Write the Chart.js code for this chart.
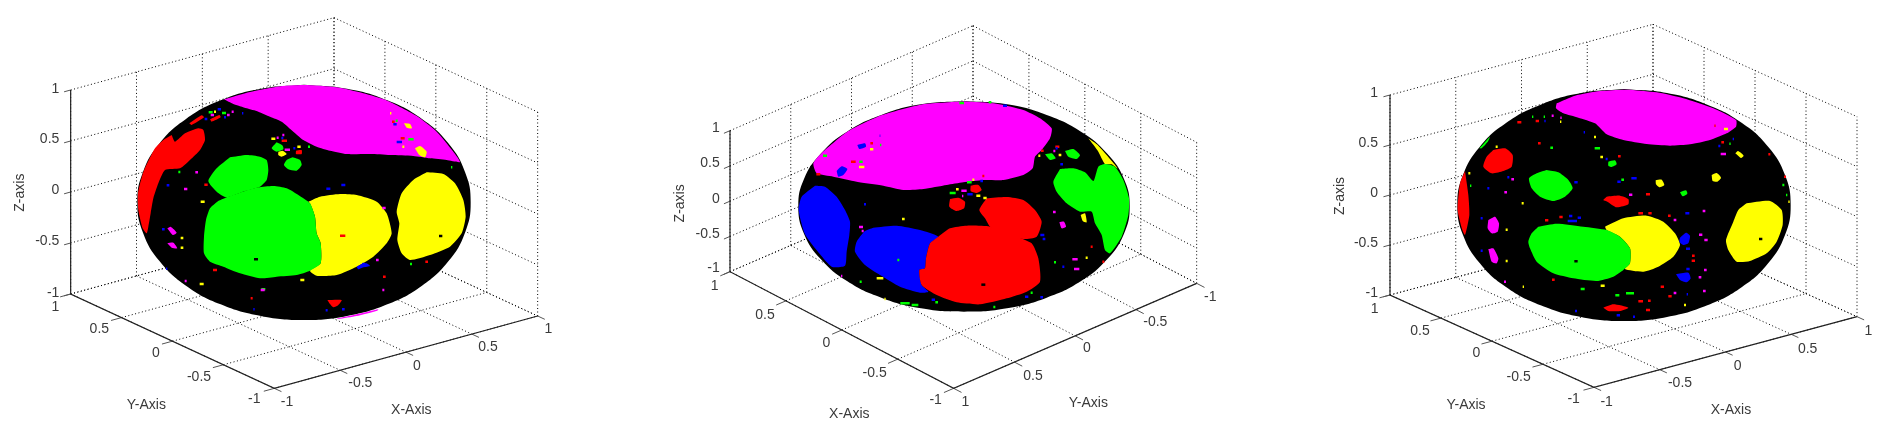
<!DOCTYPE html>
<html><head><meta charset="utf-8">
<script src="https://cdn.jsdelivr.net/npm/chart.js@4"></script>
<style>
html,body{margin:0;padding:0;background:#fff;width:1886px;height:435px;overflow:hidden}
canvas{position:absolute;top:0;filter:blur(0.35px)}
</style></head><body>
<canvas id="c1" style="left:0"></canvas>
<canvas id="c2" style="left:620px"></canvas>
<canvas id="c3" style="left:1260px"></canvas>
<script>
// All values below are in each panel's projected view units.
const tickValues=["-1","-0.5","0","0.5","1"];
const zAxisTitle="Z-axis";

/* ---------- PANEL 1 ---------- */
const p1Box={L:[-178,642],F:[433,925],R:[1223,708],H:612};
const p1ZLabelX=-212,p1ZLabelY=[638,482,330,178,28];
const p1LeftLabels=[[373,958],[207,890],[78,818],[-92,748],[-224,682]];
const p1RightLabels=[[471,965],[691,910],[861,857],[1074,802],[1255,748]];
const p1Titles=[["Y-Axis",49,975],["X-Axis",844,990],[zAxisTitle,-330,338]];
const p1Outline=[[522,14],[651,26],[772,61],[876,117],[955,190],[1005,276],[1022,367],[1005,458],[955,544],[876,617],[772,673],[651,708],[522,720],[393,708],[272,673],[168,617],[89,544],[39,458],[22,367],[39,276],[89,190],[168,117],[272,61],[393,26]];
const p1Magenta=[
 [[282,58],[360,36],[440,20],[522,15],[620,22],[700,40],[772,62],[860,108],[920,155],[970,215],[990,246],[950,240],[900,235],[850,228],[780,225],[720,222],[650,222],[600,212],[560,200],[520,180],[490,155],[455,125],[420,110],[385,95],[350,85],[310,72]],
 [[620,716],[680,703],[745,688],[742,692],[680,708],[625,717]],
 [[112,445],[122,440],[140,458],[128,465]],[[112,490],[130,488],[142,505],[125,503]]];
const p1Red=[
 [[125,165],[135,185],[165,160],[205,145],[220,150],[225,180],[210,210],[180,240],[150,265],[105,270],[85,310],[70,355],[62,400],[55,440],[50,460],[38,445],[25,390],[24,340],[40,276],[75,205],[100,180]],
 [[178,130],[215,106],[222,112],[185,135]],[[240,118],[268,105],[272,112],[245,125]],
 [[592,660],[635,660],[625,675],[610,682],[600,672]],[[498,212],[515,210],[515,222],[498,222]]];
const p1Green=[
 [[300,232],[350,225],[390,230],[410,240],[415,270],[410,300],[390,320],[345,333],[290,352],[260,335],[235,303],[260,265]],
 [[290,352],[345,333],[385,322],[430,318],[470,325],[505,345],[540,370],[555,410],[560,460],[572,490],[572,550],[540,572],[500,585],[440,590],[390,595],[330,580],[280,560],[240,545],[222,520],[222,470],[228,420],[240,385],[262,365]],
 [[440,187],[458,197],[460,208],[440,215],[425,205]],
 [[488,232],[510,240],[515,255],[500,272],[475,268],[462,255],[470,240]]];
const p1Yellow=[
 [[535,365],[570,350],[630,342],[680,345],[740,365],[770,400],[785,460],[770,490],[730,530],[680,560],[620,585],[560,587],[540,572],[572,550],[572,490],[560,460],[555,410],[540,370]],
 [[890,277],[940,282],[975,310],[1000,360],[1007,410],[995,460],[960,500],[900,525],[840,540],[815,520],[802,480],[808,430],[800,395],[815,340],[850,300]],
 [[445,215],[458,212],[470,222],[455,230],[445,225]],[[822,130],[840,132],[846,145],[830,143]],
 [[855,205],[870,198],[890,215],[885,232],[868,225]]];
const p1Blue=[[[680,560],[695,552],[698,548],[710,550],[720,558],[700,562],[685,568]]];
const p1RedSpecks=[[463,182,8],[228,314,5],[638,467,8],[255,570,6],[790,125,4],[818,175,6],[763,590,4],[365,655,3],[890,545,4]];
const p1GreenSpecks=[[242,97,6],[282,99,6],[148,276,3],[843,178,8],[800,122,3],[537,200,3],[965,262,2],[400,628,6],[843,552,3]];
const p1BlueSpecks=[[100,448,4],[114,316,4],[595,326,6],[640,315,6],[228,117,4],[285,112,3],[808,186,8],[795,133,5],[457,174,3],[493,205,3],[590,691,3],[640,688,4],[372,688,2],[110,566,2],[268,88,5],[338,100,2]];
const p1YellowSpecks=[[218,365,6],[156,474,4],[430,176,6],[215,612,6],[517,600,6],[255,95,3],[820,200,3],[782,100,2],[507,200,5],[156,503,4]];
const p1MagentaSpecks=[[200,277,4],[167,327,5],[472,209,8],[443,173,3],[247,105,5],[295,105,4],[398,630,6],[762,384,5],[742,540,4],[167,603,3],[760,630,3],[460,165,3],[308,95,3]];
const p1BlackSpecks=[[378,538,6],[932,468,5]];

/* ---------- PANEL 2 ---------- */
const p2Box={L:[-180,530],F:[491,880],R:[1220,565],H:423};
const p2ZLabelX=-211,p2ZLabelY=[520,417,312,205,100];
const p2LeftLabels=[[437,915],[254,833],[109,745],[-75,660],[-226,573]];
const p2RightLabels=[[1261,605],[1096,682],[891,760],[729,843],[526,920]];
const p2Titles=[["X-Axis",178,957],["Y-Axis",895,923],[zAxisTitle,-329,325]];
const p2Outline=[[522,18],[651,28],[770,60],[873,110],[952,176],[1002,252],[1019,334],[1002,416],[952,492],[873,558],[770,608],[651,640],[522,650],[393,640],[274,608],[171,558],[92,492],[42,416],[25,334],[42,252],[92,176],[171,110],[274,60],[393,28]];
const p2Magenta=[
 [[522,19],[620,26],[700,45],[750,70],[785,100],[780,130],[755,165],[735,185],[728,220],[700,240],[640,255],[580,255],[520,262],[470,270],[400,282],[340,285],[280,272],[200,260],[130,245],[80,235],[70,205],[92,177],[171,111],[274,61],[393,29]],
 [[808,382],[822,380],[828,395],[815,400]]];
const p2Blue=[
 [[75,272],[105,275],[140,305],[165,345],[180,380],[178,420],[170,470],[165,512],[125,515],[90,478],[45,418],[26,345],[35,305]],
 [[250,398],[320,392],[390,405],[445,425],[420,445],[408,490],[405,520],[388,525],[395,570],[415,590],[390,593],[330,575],[270,540],[225,510],[195,470],[200,440],[225,408]],
 [[202,150],[225,145],[228,155],[208,162]],[[140,228],[155,214],[172,222],[160,240],[145,245]]];
const p2Red=[
 [[445,425],[480,400],[530,392],[600,395],[680,425],[725,445],[745,490],[750,560],[710,590],[650,610],[570,628],[500,622],[440,600],[395,570],[388,525],[405,520],[408,490],[420,445]],
 [[590,310],[650,306],[700,315],[735,345],[755,380],[740,425],[700,432],[640,420],[600,395],[585,370],[568,345]],
 [[480,312],[505,308],[525,320],[522,340],[500,348],[478,335]],
 [[542,272],[565,270],[575,285],[560,294],[542,288]]];
const p2Yellow=[
 [[895,130],[925,152],[985,222],[965,208],[945,207],[925,170]],
 [[872,360],[885,355],[890,382],[878,378]]];
const p2Green=[
 [[810,222],[850,220],[885,232],[910,258],[925,215],[945,207],[975,215],[1000,255],[1017,310],[1015,360],[995,425],[960,475],[945,465],[935,420],[915,385],[905,350],[870,350],[830,325],[800,290],[790,260]],
 [[765,178],[785,175],[797,190],[780,195]],
 [[825,168],[850,162],[870,180],[860,192],[835,185]]];
const p2RedSpecks=[[190,200,7],[245,145,4],[85,238,6],[802,155,6],[757,167,4],[580,243,3],[905,455,3],[940,500,3]];
const p2GreenSpecks=[[105,182,6],[213,200,5],[488,294,9],[538,262,7],[272,150,2],[515,24,7],[325,495,3],[795,502,3],[345,625,14],[375,630,10],[440,622,4],[613,636,3],[725,593,3],[212,560,3],[600,22,4]];
const p2BlueSpecks=[[225,328,3],[757,420,6],[762,432,4],[540,298,8],[430,614,5],[575,258,4],[820,515,3],[710,605,5],[755,607,4],[645,32,6],[815,208,4],[800,160,3],[270,122,1]];
const p2YellowSpecks=[[245,163,5],[215,216,8],[270,550,10],[810,180,4],[748,182,3],[565,302,6],[585,309,5],[550,254,3],[502,283,4],[340,372,4],[890,488,3],[285,612,2]];
const p2MagentaSpecks=[[213,396,6],[218,408,3],[793,351,4],[855,493,8],[860,522,8],[522,287,8],[793,168,3],[518,303,2],[725,180,2],[155,543,2]];
const p2BlackSpecks=[[580,569,6]];

/* ---------- PANEL 3 ---------- */
const p3Box={L:[-180,630],F:[432,907],R:[1221,695],H:600};
const p3ZLabelX=-216,p3ZLabelY=[625,475,325,175,23];
const p3LeftLabels=[[371,942],[206,875],[79,805],[-90,737],[-226,673]];
const p3RightLabels=[[470,950],[690,895],[863,842],[1073,792],[1255,737]];
const p3Titles=[["Y-Axis",48,960],["X-Axis",843,975],[zAxisTitle,-331,333]];
const p3Outline=[[522,12],[651,24],[772,59],[876,114],[955,186],[1005,270],[1022,360],[1005,450],[955,534],[876,606],[772,661],[651,696],[522,708],[393,696],[272,661],[168,606],[89,534],[39,450],[22,360],[39,270],[89,186],[168,114],[272,59],[393,24]];
const p3Magenta=[
 [[320,55],[375,32],[450,18],[530,14],[620,22],[700,40],[790,70],[858,105],[858,125],[830,145],[780,165],[720,178],[660,182],[590,177],[520,165],[470,148],[435,115],[385,98],[340,85],[318,70]],
 [[115,405],[135,395],[147,415],[143,440],[125,445],[113,430]],
 [[115,492],[130,490],[145,520],[140,535],[125,530]]];
const p3Red=[
 [[45,258],[55,330],[58,390],[45,450],[36,432],[23,375],[30,295]],
 [[130,195],[165,190],[188,210],[185,245],[160,258],[125,265],[100,245],[110,215]],
 [[470,335],[510,332],[535,342],[535,358],[500,367],[472,350],[460,345]],
 [[460,668],[490,658],[535,668],[510,678],[475,678]]];
const p3Green=[
 [[290,255],[325,262],[355,285],[368,310],[345,335],[310,348],[270,335],[245,310],[237,280],[260,265]],
 [[265,425],[320,416],[400,425],[470,435],[510,455],[540,490],[540,535],[520,555],[490,575],[440,588],[370,580],[310,565],[260,530],[240,490],[235,470],[245,445]],
 [[475,230],[495,226],[500,238],[485,246],[475,242]],[[690,322],[708,316],[712,326],[698,334]],
 [[88,190],[120,155],[112,172],[95,190]]];
const p3Yellow=[
 [[465,425],[520,400],[590,392],[640,410],[675,445],[690,480],[670,515],[625,545],[580,560],[525,552],[540,535],[540,490],[510,455],[470,435]],
 [[890,355],[960,348],[995,375],[998,420],[980,470],[950,505],[900,528],[860,530],[835,495],[828,465],[850,410],[865,375]],
 [[617,286],[635,284],[643,300],[628,307],[618,298]],[[785,270],[800,264],[813,278],[802,290],[788,288]],[[856,205],[864,198],[881,212],[873,219]]];
const p3Blue=[
 [[690,458],[708,443],[720,452],[715,475],[700,480],[688,470]],
 [[678,568],[715,563],[722,580],[710,592],[690,585]]];
const p3RedSpecks=[[208,112,6],[262,108,5],[268,175,4],[572,385,7],[594,328,6],[333,396,5],[290,406,5],[600,385,5],[658,392,4],[637,605,5],[660,634,5],[572,649,7],[598,647,4],[594,675,6],[730,512,4],[730,527,5],[795,122,2],[818,172,4],[508,214,4],[958,208,3],[310,584,4],[1005,275,3]];
const p3GreenSpecks=[[442,190,8],[305,188,4],[518,284,4],[398,612,6],[540,625,12],[502,631,6],[1000,300,3],[1010,330,2],[840,176,2],[62,302,2],[248,95,2],[283,95,2]];
const p3BlueSpecks=[[362,393,5],[367,408,14],[388,398,5],[507,290,5],[552,280,8],[712,385,6],[714,491,6],[714,552,5],[95,400,3],[115,310,3],[175,277,3],[378,292,5],[378,678,3],[505,691,5],[552,695,3],[850,162,2],[403,142,2],[95,497,3],[470,222,3],[808,183,3],[712,628,2],[285,108,2]];
const p3YellowSpecks=[[435,156,3],[455,216,4],[218,355,3],[170,434,3],[170,528,3],[458,602,6],[705,660,3],[58,265,3],[828,132,6],[140,185,3],[220,605,2],[332,110,2],[1017,350,2]];
const p3MagentaSpecks=[[820,207,8],[188,283,4],[167,322,4],[542,329,5],[675,405,4],[762,378,4],[752,449,5],[768,465,5],[766,555,4],[750,577,4],[763,618,4],[675,624,4],[308,92,3],[165,590,3],[333,98,2],[460,160,1]];
const p3BlackSpecks=[[378,529,5],[932,462,5]];

const COL={red:'#ff0000',green:'#00ff00',blue:'#0000ff',yellow:'#ffff00',magenta:'#ff00ff',black:'#000000'};
const GAP={x:null,y:null};
const pt=p=>({x:p[0],y:p[1]});
const mix=(a,b,t)=>[a[0]+(b[0]-a[0])*t,a[1]+(b[1]-a[1])*t];

function boxLines(b){
  const ts=[0,.25,.5,.75,1],up=p=>[p[0],p[1]-b.H];
  const B=[b.L[0]+b.R[0]-b.F[0],b.L[1]+b.R[1]-b.F[1]];
  const grid=[],seg=(a,c)=>grid.push(pt(a),pt(c),GAP);
  ts.forEach(t=>{
    seg(mix(b.L,b.F,t),mix(B,b.R,t));            // floor
    seg(mix(b.L,B,t),mix(b.F,b.R,t));            // floor
    const a=mix(b.L,B,t),c=mix(B,b.R,t);
    seg(a,up(a));seg(c,up(c));                   // wall verticals
    const zl=[b.L[0],b.L[1]-b.H*t],zb=[B[0],B[1]-b.H*t],zr=[b.R[0],b.R[1]-b.H*t];
    seg(zl,zb);seg(zb,zr);                       // wall horizontals
  });
  const ticks=[];
  const kx=[(b.R[0]-b.F[0])*-.04,(b.R[1]-b.F[1])*-.04],ky=[(b.F[0]-b.L[0])*.035,(b.F[1]-b.L[1])*.035];
  const kz=[(b.R[0]-b.F[0])*-.025,(b.R[1]-b.F[1])*-.025];
  ts.forEach(t=>{
    const y=mix(b.L,b.F,t),x=mix(b.F,b.R,t),z=[b.L[0],b.L[1]-b.H*t];
    ticks.push(pt(y),pt([y[0]+kx[0],y[1]+kx[1]]),GAP);
    ticks.push(pt(x),pt([x[0]+ky[0],x[1]+ky[1]]),GAP);
    ticks.push(pt(z),pt([z[0]+kz[0],z[1]+kz[1]]),GAP);
  });
  const axes=[pt(up(b.L)),pt(b.L),pt(b.F),pt(b.R)];
  return {grid,ticks,axes};
}
function poly(points,color,tension){
  return {data:points.concat([points[0]]).map(pt),showLine:true,fill:'shape',backgroundColor:color,borderColor:color,borderWidth:0,pointRadius:0,tension:tension};
}
function specks(list,color){
  const d=[];list.forEach(s=>d.push({x:s[0]-s[2],y:s[1]},{x:s[0]+s[2],y:s[1]},GAP));
  return {data:d,showLine:true,fill:false,borderColor:color,borderWidth:2.5,pointRadius:0,tension:0,borderCapStyle:'butt'};
}
const labelPlugin={id:'labels',afterDatasetsDraw(ch){
  const c=ch.ctx,sx=ch.scales.x,sy=ch.scales.y,P=ch.config.options.plugins.labels;
  c.save();c.fillStyle='#3a3a3a';c.font='14px "Liberation Sans", Arial, sans-serif';c.textBaseline='middle';
  c.textAlign='right';
  P.zY.forEach((y,i)=>c.fillText(tickValues[i],sx.getPixelForValue(P.zX),sy.getPixelForValue(y)));
  c.textAlign='center';
  P.left.forEach((p,i)=>c.fillText(tickValues[i],sx.getPixelForValue(p[0]),sy.getPixelForValue(p[1])));
  P.right.forEach((p,i)=>c.fillText(tickValues[i],sx.getPixelForValue(p[0]),sy.getPixelForValue(p[1])));
  P.titles.forEach(t=>{
    const x=sx.getPixelForValue(t[1]),y=sy.getPixelForValue(t[2]);
    if(t[0]===zAxisTitle){c.save();c.translate(x,y);c.rotate(-Math.PI/2);c.fillText(t[0],0,0);c.restore();}
    else c.fillText(t[0],x,y);
  });
  c.restore();
}};
function panel(id,cw,ox,oy,p){
  const l=boxLines(p.box),painted=[];
  painted.push({data:l.grid,showLine:true,fill:false,borderColor:'#000',borderWidth:1,borderDash:[1,2.5],pointRadius:0,tension:0});
  painted.push({data:l.ticks,showLine:true,fill:false,borderColor:'#555',borderWidth:1,pointRadius:0,tension:0});
  painted.push({data:l.axes,showLine:true,fill:false,borderColor:'#222',borderWidth:1.2,pointRadius:0,tension:0});
  painted.push(poly(p.outline,COL.black,.45));
  p.layers.forEach(([list,col])=>list.forEach(s=>painted.push(poly(s,COL[col],.2))));
  p.specks.forEach(([list,col])=>painted.push(specks(list,COL[col])));
  const n=painted.length;painted.forEach((d,i)=>d.order=n-i);
  const cv=document.getElementById(id);
  new Chart(cv,{type:'scatter',data:{datasets:painted},plugins:[labelPlugin],options:{
    responsive:false,animation:false,events:[],layout:{padding:0},
    plugins:{legend:{display:false},tooltip:{enabled:false},filler:{propagate:false},
      labels:{zX:p.zX,zY:p.zY,left:p.left,right:p.right,titles:p.titles}},
    scales:{
      x:{type:'linear',display:false,min:-ox*3,max:(cw-ox)*3},
      y:{type:'linear',display:false,reverse:true,min:-oy*3,max:(435-oy)*3}
    }}});
}
function setSize(id,w){const c=document.getElementById(id);c.width=w;c.height=435;c.style.width=w+'px';c.style.height='435px';}
setSize('c1',620);setSize('c2',640);setSize('c3',626);
panel('c1',620,130,80,{box:p1Box,zX:p1ZLabelX,zY:p1ZLabelY,left:p1LeftLabels,right:p1RightLabels,titles:p1Titles,outline:p1Outline,
  layers:[[p1Magenta,'magenta'],[p1Red,'red'],[p1Yellow,'yellow'],[p1Green,'green'],[p1Blue,'blue']],
  specks:[[p1RedSpecks,'red'],[p1GreenSpecks,'green'],[p1BlueSpecks,'blue'],[p1YellowSpecks,'yellow'],[p1MagentaSpecks,'magenta'],[p1BlackSpecks,'black']]});
panel('c2',640,170,95,{box:p2Box,zX:p2ZLabelX,zY:p2ZLabelY,left:p2LeftLabels,right:p2RightLabels,titles:p2Titles,outline:p2Outline,
  layers:[[p2Magenta,'magenta'],[p2Yellow,'yellow'],[p2Blue,'blue'],[p2Red,'red'],[p2Green,'green']],
  specks:[[p2RedSpecks,'red'],[p2GreenSpecks,'green'],[p2BlueSpecks,'blue'],[p2YellowSpecks,'yellow'],[p2MagentaSpecks,'magenta'],[p2BlackSpecks,'black']]});
panel('c3',626,190,85,{box:p3Box,zX:p3ZLabelX,zY:p3ZLabelY,left:p3LeftLabels,right:p3RightLabels,titles:p3Titles,outline:p3Outline,
  layers:[[p3Magenta,'magenta'],[p3Red,'red'],[p3Yellow,'yellow'],[p3Green,'green'],[p3Blue,'blue']],
  specks:[[p3RedSpecks,'red'],[p3GreenSpecks,'green'],[p3BlueSpecks,'blue'],[p3YellowSpecks,'yellow'],[p3MagentaSpecks,'magenta'],[p3BlackSpecks,'black']]});
</script>
</body></html>
